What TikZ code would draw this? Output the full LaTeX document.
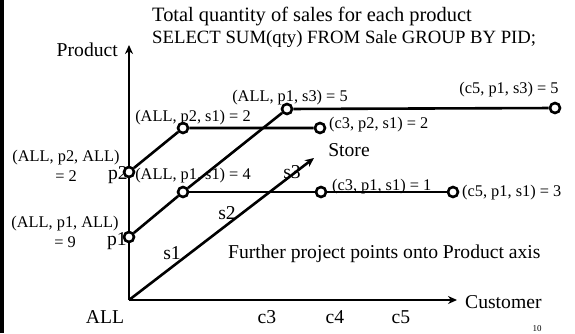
\documentclass[tikz,border=0pt]{standalone}
\usepackage{fontspec}
\setmainfont{Liberation Serif}
\usetikzlibrary{arrows.meta}

\begin{document}
\begin{tikzpicture}[
    x=1bp, y=1bp,
    font=\fontsize{19.7}{22}\selectfont,
    pt/.style={draw, circle, line width=2.6bp, fill=white, minimum size=10bp, inner sep=0pt},
    ln/.style={line width=2.6bp},
    ax/.style={line width=2.6bp, -{Stealth[length=9bp, width=8bp]}},
    cell/.style={font=\fontsize{16.4}{19.5}\selectfont, inner sep=0pt},
  ]
  \useasboundingbox (0,0) rectangle (575,333);
  \draw[line width=3bp] (2,0) -- (2,333);

  % --- title ---
  \node[anchor=west, align=left, inner sep=0pt] (title) at (152,306)
    {\fontsize{20.5}{20}\selectfont Total quantity of sales for each product\\
     \fontsize{18.8}{20}\selectfont SELECT SUM(qty) FROM Sale GROUP BY PID;};

  % --- axes ---
  \coordinate (O) at (129,33);
  \coordinate (ytip) at (129,288);
  \coordinate (xtip) at (457,33);
  \coordinate (ztip) at (314,175);
  \draw[ax] (O) -- (ytip);
  \draw[ax] (O) -- (xtip);
  \draw[ax] (O) -- (ztip);
  \node[anchor=east, inner sep=0pt] (prod) at (118,283) {Product};
  \node[anchor=west, inner sep=0pt] (cust) at (465,31) {Customer};
  \node[inner sep=0pt] (store) at (349,183) {Store};
  \node (all) at (105,16) {ALL};
  \node (c3) at (267,16) {c3};
  \node (c4) at (335,16) {c4};
  \node (c5) at (401,16) {c5};
  \node (s1) at (172,80) {s1};
  \node (s2) at (227,120) {s2};
  \node (s3) at (292,161) {s3};

  % --- cells ---
  \node[pt] (p2) at (129,161) {};
  \node[pt] (p1) at (129,96) {};
  \node[pt] (ap2s1) at (183,205) {};
  \node[pt] (ap1s1) at (183,141) {};
  \node[pt] (ap1s3) at (287,224) {};
  \node[pt] (c3p2s1) at (320,205) {};
  \node[pt] (c3p1s1) at (321,141) {};
  \node[pt] (c5p1s1) at (453,141) {};
  \node[pt] (c5p1s3) at (555,225) {};
  \draw[ln] (p2) -- (ap2s1) -- (c3p2s1);
  \draw[ln] (p1) -- (ap1s1) -- (ap1s3) -- (c5p1s3);
  \draw[ln] (ap1s1) -- (c3p1s1) -- (c5p1s1);

  % --- labels ---
  \node[anchor=east, inner sep=0pt] (lp2) at (128,158) {p2};
  \node[anchor=east, inner sep=0pt] (lp1) at (127,92) {p1};
  \node[cell, align=center] at (66,167) {(ALL, p2, ALL)\\= 2};
  \node[cell, align=center] at (65,101) {(ALL, p1, ALL)\\= 9};
  \node[cell] at (193,215) {(ALL, p2, s1) = 2};
  \node[cell] at (193,157) {(ALL, p1, s1) = 4};
  \node[cell] at (290,235) {(ALL, p1, s3) = 5};
  \node[cell, anchor=west] at (329,208) {(c3, p2, s1) = 2};
  \node[cell] at (509,243) {(c5, p1, s3) = 5};
  \node[cell, anchor=west] at (332,146) {(c3, p1, s1) = 1};
  \node[cell, anchor=west] at (462,140) {(c5, p1, s1) = 3};
  \node[anchor=west, inner sep=0pt] (note) at (228,79) {Further project points onto Product axis};
  \node[font=\fontsize{9}{9}\selectfont, inner sep=0pt] at (537,4) {10};
\end{tikzpicture}
\end{document}
